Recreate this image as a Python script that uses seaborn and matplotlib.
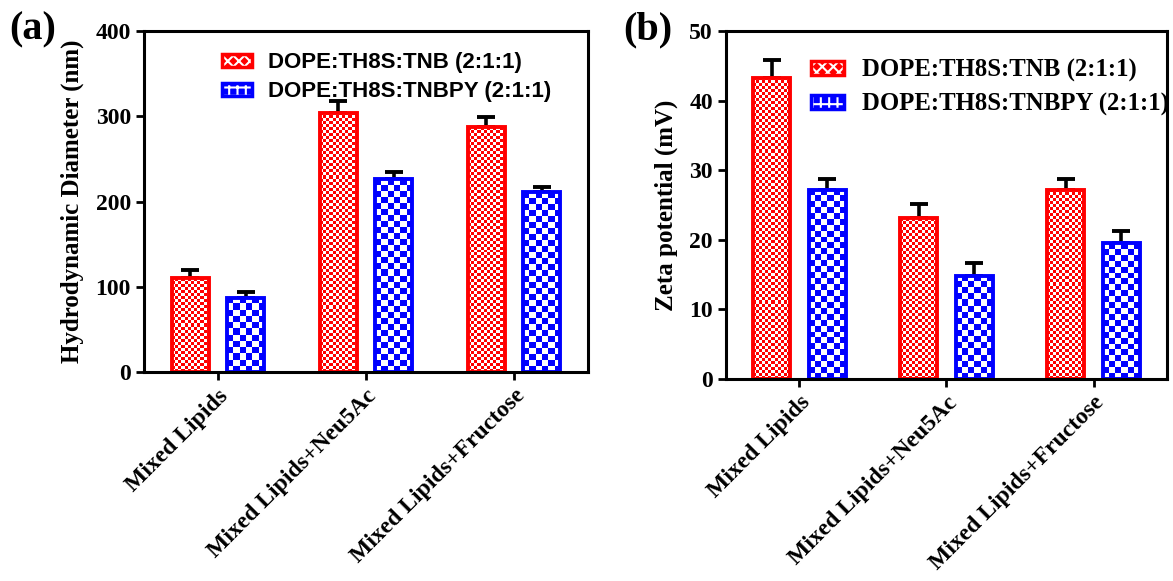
import numpy as np
import pandas as pd
import seaborn as sns
import matplotlib.pyplot as plt
from matplotlib.colors import ListedColormap
from matplotlib.patches import Rectangle
from matplotlib.legend_handler import HandlerTuple

sns.set_style("ticks")
plt.rcParams["font.family"] = ["Liberation Serif", "DejaVu Serif"]
plt.rcParams["font.weight"] = "bold"
plt.rcParams["hatch.linewidth"] = 1.5
for k in ["text.color", "axes.labelcolor", "axes.edgecolor", "xtick.color", "ytick.color"]:
    plt.rcParams[k] = "black"

# data
groups = ["Mixed Lipids", "Mixed Lipids+Neu5Ac", "Mixed Lipids+Fructose"]
series = ["DOPE:TH8S:TNB (2:1:1)", "DOPE:TH8S:TNBPY (2:1:1)"]
size_tnb = [110, 304, 287]
size_tnb_err = [10, 14, 12]
size_tnbpy = [87, 226, 211]
size_tnbpy_err = [7, 9, 6]
zeta_tnb = [43.3, 23.1, 27.2]
zeta_tnb_err = [2.6, 2.0, 1.6]
zeta_tnbpy = [27.2, 14.8, 19.5]
zeta_tnbpy_err = [1.6, 1.9, 1.7]

colors = ["#FF0000", "#0000FF"]
cells = [3, 6]  # checker cell size in px for each series


def make_df(a, b):
    return pd.DataFrame({
        "group": groups * 2,
        "series": [series[0]] * 3 + [series[1]] * 3,
        "value": a + b,
    })


def checker(ax, patch, color, cell):
    x0, y0 = patch.get_x(), patch.get_y()
    w, h = patch.get_width(), patch.get_height()
    (px0, py0), (px1, py1) = ax.transData.transform([(x0, y0), (x0 + w, y0 + h)])
    nx = max(1, int(round(abs(px1 - px0) / cell)))
    ny = max(1, int(round(abs(py1 - py0) / cell)))
    grid = np.indices((ny, nx)).sum(axis=0) % 2
    im = ax.imshow(grid, cmap=ListedColormap(["white", color]), extent=(x0, x0 + w, y0, y0 + h),
                   origin="lower", interpolation="nearest", aspect="auto", zorder=1.5)
    im.set_clip_path(patch)
    patch.set_facecolor("none")
    patch.set_zorder(2)


def panel(ax, df, errs, ylim, yticks, ylabel):
    sns.barplot(data=df, x="group", y="value", hue="series", palette=colors,
                width=0.75, gap=0.33, errorbar=None, legend=False, ax=ax)
    ax.set_xlim(-0.5, 2.5)
    ax.set_ylim(*ylim)
    ax.set_yticks(yticks)
    for cont, col, cell, (vals, err) in zip(ax.containers, colors, cells, errs):
        xs = []
        for p in cont:
            p.set_edgecolor(col)
            p.set_linewidth(2.8)
            xs.append(p.get_x() + p.get_width() / 2)
            checker(ax, p, col, cell)
        ax.errorbar(xs, vals, yerr=[np.zeros(len(err)), err], fmt="none", ecolor="black",
                    elinewidth=2.6, capsize=6.5, capthick=2.8, zorder=1.4)
    ax.set_xlim(-0.5, 2.5)
    ax.set_ylim(*ylim)
    ax.set_xlabel("")
    ax.set_ylabel(ylabel, fontsize=18, fontweight="bold", labelpad=8)
    ax.tick_params(axis="both", labelsize=17, width=2, length=6, direction="out")
    plt.setp(ax.get_xticklabels(), rotation=45, ha="right", rotation_mode="anchor", fontweight="bold")
    plt.setp(ax.get_yticklabels(), fontweight="bold")
    for s in ax.spines.values():
        s.set_linewidth(2.2)
        s.set_visible(True)


def handles(hatches):
    out = []
    for col, hatch in zip(colors, hatches):
        fill = Rectangle((0, 0), 1, 1, facecolor=col, edgecolor="white", hatch=hatch, linewidth=0)
        frame = Rectangle((0, 0), 1, 1, facecolor="none", edgecolor=col, linewidth=2.5)
        out.append((fill, frame))
    return out


fig = plt.figure(figsize=(11.73, 5.81), dpi=100)
ax1 = fig.add_axes([0.1228, 0.3597, 0.3785, 0.5869])
ax2 = fig.add_axes([0.6189, 0.3477, 0.376, 0.599])

panel(ax1, make_df(size_tnb, size_tnbpy),
      [(size_tnb, size_tnb_err), (size_tnbpy, size_tnbpy_err)],
      (0, 400), [0, 100, 200, 300, 400], "Hydrodynamic Diameter (nm)")
panel(ax2, make_df(zeta_tnb, zeta_tnbpy),
      [(zeta_tnb, zeta_tnb_err), (zeta_tnbpy, zeta_tnbpy_err)],
      (0, 50), [0, 10, 20, 30, 40, 50], "Zeta potential (mV)")

ax1.legend(handles(["xxx", "++"]), series, handler_map={tuple: HandlerTuple(ndivide=1)},
           loc="upper left", bbox_to_anchor=(0.15, 0.97), frameon=False, borderpad=0,
           handlelength=1.35, handleheight=0.55, handletextpad=0.75, labelspacing=0.35,
           prop={"family": "Liberation Sans", "weight": "bold", "size": 16})
ax2.legend(handles(["xxx", "++"]), series, handler_map={tuple: HandlerTuple(ndivide=1)},
           loc="upper left", bbox_to_anchor=(0.165, 0.955), frameon=False, borderpad=0,
           handlelength=1.35, handleheight=0.5, handletextpad=0.7, labelspacing=0.42,
           prop={"family": "Liberation Serif", "weight": "bold", "size": 17.8})

fig.text(0.008, 0.98, "(a)", fontsize=29, fontweight="bold", va="top")
fig.text(0.531, 0.98, "(b)", fontsize=29, fontweight="bold", va="top")

fig.savefig("out.png", dpi=100)
